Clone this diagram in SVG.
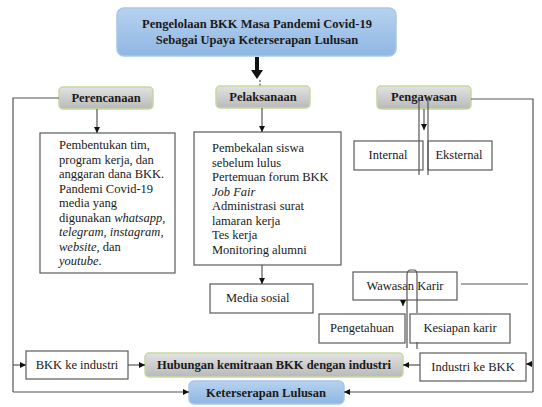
<svg xmlns="http://www.w3.org/2000/svg" width="542" height="407" viewBox="0 0 542 407">
<defs>
<linearGradient id="gBlue" x1="0" y1="0" x2="0" y2="1"><stop offset="0" stop-color="#b7d2ef"/><stop offset="1" stop-color="#8fb6e2"/></linearGradient>
<linearGradient id="gGray" x1="0" y1="0" x2="0" y2="1"><stop offset="0" stop-color="#e2e2e2"/><stop offset="1" stop-color="#b9b9b9"/></linearGradient>
<marker id="ah" viewBox="0 0 6 6" refX="6" refY="3" markerWidth="6" markerHeight="6" markerUnits="userSpaceOnUse" orient="auto"><path d="M0,0 L6,3 L0,6 z" fill="#111"/></marker>
<style>
.t{font-family:"Liberation Serif","Times New Roman",serif;font-size:12.5px;fill:#1a1a1a}
.b{font-weight:bold}
.c{text-anchor:middle}
.i{font-style:italic}
.box{fill:#fff;stroke:#5a5a5a;stroke-width:1.2}
.hdr{fill:url(#gGray);stroke:#c6d9a0;stroke-width:1.5}
.blue{fill:url(#gBlue);stroke:#a8c6e8;stroke-width:1.5}
.ln{fill:none;stroke:#555;stroke-width:1.2}
.la{fill:none;stroke:#555;stroke-width:1.2;marker-end:url(#ah)}
</style>
</defs>

<g id="top">
<rect class="blue" x="117" y="8" width="279" height="48" rx="7"/>
<text class="t b c" x="257" y="28">Pengelolaan BKK Masa Pandemi Covid-19</text>
<text class="t b c" x="257" y="44">Sebagai Upaya Keterserapan Lulusan</text>
</g>

<g id="perencanaan">
<rect class="hdr" x="59" y="87" width="94" height="22" rx="4"/>
<text class="t b c" x="106" y="102">Perencanaan</text>
</g>
<g id="pelaksanaan">
<rect class="hdr" x="216" y="86" width="94" height="22" rx="4"/>
<text class="t b c" x="263" y="101">Pelaksanaan</text>
</g>
<g id="pengawasan">
<rect class="hdr" x="377" y="86" width="94" height="23" rx="4"/>
<text class="t b c" x="424" y="101">Pengawasan</text>
</g>

<g id="perencanaan-detail">
<rect class="box" x="40" y="133" width="135" height="140"/>
<text class="t" x="59" y="149">Pembentukan tim,</text>
<text class="t" x="59" y="163.5">program kerja, dan</text>
<text class="t" x="59" y="178">anggaran dana BKK.</text>
<text class="t" x="59" y="192.5">Pandemi Covid-19</text>
<text class="t" x="59" y="207">media yang</text>
<text class="t" x="59" y="221.5">digunakan <tspan class="i">whatsapp,</tspan></text>
<text class="t i" x="59" y="236">telegram, instagram,</text>
<text class="t" x="59" y="250.5"><tspan class="i">website,</tspan> dan</text>
<text class="t" x="59" y="265"><tspan class="i">youtube</tspan>.</text>
</g>

<g id="pelaksanaan-detail">
<rect class="box" x="194" y="132" width="147" height="133"/>
<text class="t" x="212" y="152">Pembekalan siswa</text>
<text class="t" x="212" y="166.5">sebelum lulus</text>
<text class="t" x="212" y="181">Pertemuan forum BKK</text>
<text class="t i" x="212" y="195.5">Job Fair</text>
<text class="t" x="212" y="210">Administrasi surat</text>
<text class="t" x="212" y="224.5">lamaran kerja</text>
<text class="t" x="212" y="239">Tes kerja</text>
<text class="t" x="212" y="253.5">Monitoring alumni</text>
</g>

<g id="media-sosial">
<rect class="box" x="210" y="284" width="103" height="29"/>
<text class="t" x="226" y="302">Media sosial</text>
</g>

<g id="internal">
<rect class="box" x="354" y="141" width="69" height="29"/>
<text class="t c" x="388" y="159">Internal</text>
</g>
<g id="eksternal">
<rect class="box" x="428" y="141" width="64" height="29"/>
<text class="t c" x="459" y="159">Eksternal</text>
</g>

<g id="wawasan-karir">
<rect class="box" x="353" y="272" width="104" height="28"/>
<text class="t c" x="405" y="290">Wawasan Karir</text>
</g>
<g id="pengetahuan">
<rect class="box" x="319" y="314" width="86" height="29"/>
<text class="t c" x="362" y="332">Pengetahuan</text>
</g>
<g id="kesiapan-karir">
<rect class="box" x="410" y="314" width="100" height="29"/>
<text class="t c" x="460" y="332">Kesiapan karir</text>
</g>

<g id="bkk-ke-industri">
<rect class="box" x="26" y="351" width="102" height="28"/>
<text class="t c" x="77" y="369">BKK ke industri</text>
</g>
<g id="hubungan">
<rect class="hdr" x="145" y="353" width="258" height="24" rx="4"/>
<text class="t b c" x="274" y="369">Hubungan kemitraan BKK dengan industri</text>
</g>
<g id="industri-ke-bkk">
<rect class="box" x="420" y="353" width="106" height="28"/>
<text class="t c" x="473" y="371">Industri ke BKK</text>
</g>

<g id="keterserapan">
<rect class="blue" x="189" y="381" width="155" height="23" rx="5"/>
<text class="t b c" x="266" y="397">Keterserapan Lulusan</text>
</g>

<g id="connectors">
<path class="ln" d="M59,98 H13 V392"/>
<path class="la" d="M13,392 H189"/>
<path class="la" d="M13,365 H26"/>
<path class="la" d="M128,365 H145"/>
<path class="la" d="M420,365 H403"/>
<path class="ln" d="M471,99 H533 V392"/>
<path class="la" d="M533,392 H344"/>
<path class="la" d="M533,364 H526"/>
<path class="la" d="M97,109 V133"/>
<path class="la" d="M262,108 V132"/>
<path class="la" d="M262,265 V284"/>
<path class="ln" d="M260,80 V86" stroke-dasharray="2,1.5"/>
<path class="ln" d="M419,97 V175"/>
<path class="ln" d="M428,97 V175"/>
<path class="la" d="M424,109 V130"/>
<path class="ln" d="M461,284 H528"/>
<path class="ln" d="M407,348 V275 Q407,270 411,270 H414 Q417,270 417,275 V313"/>
<path class="ln" d="M417,342 V349"/>
<path class="la" d="M403,300 V306"/>
<path d="M255,57 H259 V70 H263 L257,79 L251,70 H255 Z" fill="#111"/>
</g>
</svg>
